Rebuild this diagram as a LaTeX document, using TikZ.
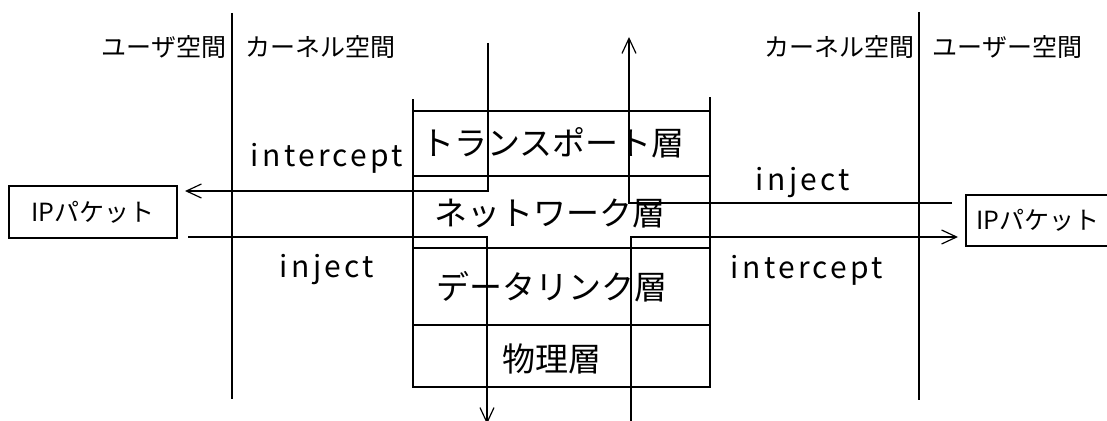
\documentclass[tikz,border=0pt]{standalone}
\usepackage{fontspec}
\setmainfont{Noto Sans CJK JP}
\newfontfamily\latinsp[LetterSpace=11]{Noto Sans CJK JP}
\usetikzlibrary{arrows.meta}
\begin{document}
\begin{tikzpicture}[x=1pt,y=-1pt,line width=1.3pt,
  flow/.style={draw,-{Straight Barb[length=15pt,width=14pt,line width=1.2pt]}},
  layerbox/.style={draw,minimum width=297pt,inner sep=0pt,outer sep=0pt},
  layertext/.style={font=\fontsize{33}{36}\selectfont,inner sep=0pt},
  spacetext/.style={font=\fontsize{25}{28}\selectfont,inner sep=0pt},
  optext/.style={font=\latinsp\fontsize{30}{33}\selectfont,inner sep=0pt},
  pktbox/.style={draw,inner sep=0pt,font=\fontsize{25}{28}\selectfont}]
\useasboundingbox (0,0) rectangle (1107,420);
% dividers
\coordinate (dl1) at (232,13); \coordinate (dl2) at (232,399);
\coordinate (dr1) at (919,12); \coordinate (dr2) at (919,400);
\draw (dl1) -- (dl2);
\draw (dr1) -- (dr2);
% space labels
\node[spacetext,anchor=east] (us1) at (227,47) {ユーザ空間};
\node[spacetext,anchor=west] (ks1) at (245,47) {カーネル空間};
\node[spacetext,anchor=east] (ks2) at (915,47) {カーネル空間};
\node[spacetext,anchor=west] (us2) at (932,47) {ユーザー空間};
% layer stack
\node[layerbox,minimum height=65pt] (tp) at (561.5,143.5) {};
\node[layerbox,minimum height=72pt] (nw) at (561.5,212) {};
\node[layerbox,minimum height=77pt] (dl) at (561.5,286.5) {};
\node[layerbox,minimum height=62pt] (ph) at (561.5,356) {};
\draw (tp.north west) -- ++(0,-12);
\draw (tp.north east) -- ++(0,-14);
\node[layertext] (tpt) at (553,143) {トランスポート層};
\node[layertext] (nwt) at (550,214) {ネットワーク層};
\node[layertext] (dlt) at (552,287) {データリンク層};
\node[layertext] (pht) at (552,359) {物理層};
% packet boxes
\node[pktbox,minimum width=168pt,minimum height=52pt] (ipl) at (93,212) {IPパケット};
\node[pktbox,minimum width=144pt,minimum height=51pt] (ipr) at (1038,220.5) {IPパケット};
% flows
\coordinate (aTop) at (488,43);  \coordinate (aTip) at (185,191);
\coordinate (bStart) at (188,237); \coordinate (bTip) at (487,424);
\coordinate (cStart) at (952,203); \coordinate (cTip) at (629,37);
\coordinate (dStart) at (631,422); \coordinate (dTip) at (958,237);
\draw[flow] (aTop) |- (aTip);
\draw[flow] (bStart) -| (bTip);
\draw[flow] (cStart) -| (cTip);
\draw[flow] (dStart) |- (dTip);
% operation labels
\node[optext] (li) at (327,158) {intercept};
\node[optext] (lj) at (327,270) {inject};
\node[optext] (rj) at (803,183) {inject};
\node[optext] (ri) at (807,270) {intercept};
\end{tikzpicture}
\end{document}
